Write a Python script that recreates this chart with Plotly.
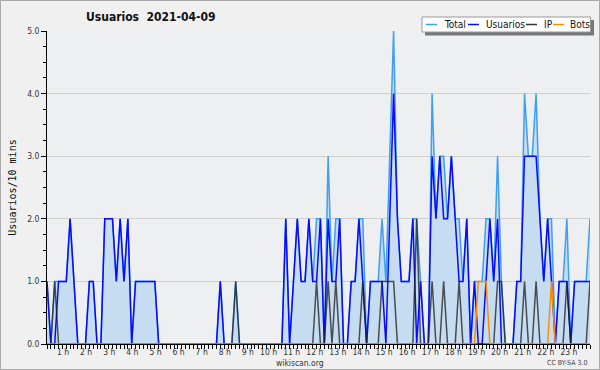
import plotly.graph_objects as go

# ---------------- data (10-minute slots, index 0 = 00:00) ----------------
slots = list(range(142))
total = [1,0,1,1,1,1,2,1,0,0,
         0,1,1,0,0,2,2,2,1,2,
         1,2,0,1,1,1,1,1,1,0,
         0,0,0,0,0,0,0,0,0,0,
         0,0,0,0,0,1,0,0,0,1,
         0,0,0,0,0,0,0,0,0,0,
         0,0,2,0,1,2,1,1,2,1,
         2,2,0,3,1,2,2,0,0,1,
         1,2,2,0,1,1,1,2,1,3,
         5,2,1,1,1,2,2,1,0,0,
         4,2,3,3,2,3,2,2,1,2,
         0,1,1,1,2,2,1,3,1,0,
         0,0,1,1,4,3,3,4,2,1,
         2,2,0,1,1,2,0,1,1,1,
         1,2]
usuarios = [1,0,0,1,1,1,2,1,0,0,
            0,1,1,0,0,2,2,2,1,2,
            1,2,0,1,1,1,1,1,1,0,
            0,0,0,0,0,0,0,0,0,0,
            0,0,0,0,0,1,0,0,0,0,
            0,0,0,0,0,0,0,0,0,0,
            0,0,2,0,1,2,1,1,2,1,
            1,2,0,2,1,1,2,0,0,1,
            1,2,1,0,1,1,1,1,0,2,
            4,2,1,1,1,2,0,1,0,0,
            3,2,3,2,2,3,2,1,1,2,
            0,1,0,0,1,2,1,2,0,0,
            0,0,1,1,3,3,3,3,2,1,
            2,1,0,1,1,1,0,1,1,1,
            1,1]
ip = [0,0,1,0,0,0,0,0,0,0,
      0,0,0,0,0,0,0,0,0,0,
      0,0,0,0,0,0,0,0,0,0,
      0,0,0,0,0,0,0,0,0,0,
      0,0,0,0,0,0,0,0,0,1,
      0,0,0,0,0,0,0,0,0,0,
      0,0,0,0,0,0,0,0,0,0,
      1,0,0,1,0,1,0,0,0,0,
      0,0,1,0,0,0,0,1,1,1,
      1,0,0,0,0,0,2,0,0,0,
      1,0,0,1,0,0,0,1,0,0,
      0,0,0,0,0,0,0,1,1,0,
      0,0,0,0,1,0,0,1,0,0,
      0,0,0,0,0,1,0,0,0,0,
      0,1]
bots = [0]*112 + [1,1,1] + [0]*16 + [1] + [0]*10

hours = list(range(1, 24))
hour_labels = [f"{h} h" for h in hours]

# ---------------- geometry ----------------
W, H = 600, 370
ML, MR, MT, MB = 47, 10, 31, 26
PW, PH = W - ML - MR, H - MT - MB

def fx(px):
    return (px - ML) / PW

def fy(py):
    return (H - MB - py) / PH

FONT = "DejaVu Sans Condensed, Liberation Sans Narrow, DejaVu Sans, sans-serif"

C_TOTAL = "#3d9ff5"
C_USR = "#0a0aff"
C_IP = "rgba(30,30,30,0.75)"
C_BOTS = "#ff8c00"

fig = go.Figure()
fig.add_trace(go.Scatter(x=slots, y=total, mode="lines", name="Total",
                         line=dict(color=C_TOTAL, width=1.5),
                         fill="tozeroy", fillcolor="#c6dcf0"))
fig.add_trace(go.Scatter(x=slots, y=usuarios, mode="lines", name="Usuarios",
                         line=dict(color=C_USR, width=1.5)))
fig.add_trace(go.Scatter(x=slots, y=ip, mode="lines", name="IP",
                         line=dict(color=C_IP, width=1.5)))
fig.add_trace(go.Scatter(x=slots, y=bots, mode="lines", name="Bots",
                         line=dict(color=C_BOTS, width=1.5)))

fig.update_layout(
    width=W, height=H,
    margin=dict(l=ML, r=MR, t=MT, b=MB),
    paper_bgcolor="#f0f0f0",
    plot_bgcolor="#eeeff1",
    showlegend=False,
    font=dict(family=FONT, size=9, color="#333"),
    xaxis=dict(
        range=[0, 141], showgrid=False, zeroline=False,
        showline=True, linecolor="black", linewidth=1,
        tickmode="array", tickvals=[6 * h for h in hours], ticktext=hour_labels,
        tickangle=0,
        ticks="outside", ticklen=4, tickcolor="black",
        ticklabelposition="outside left",
        tickfont=dict(family=FONT, size=8.5, color="#333"),
        minor=dict(ticks="outside", ticklen=4, tickcolor="black",
                   tickmode="linear", tick0=0, dtick=1, showgrid=False),
        fixedrange=True,
    ),
    yaxis=dict(
        range=[0, 5], dtick=1, tickformat=".1f",
        showgrid=True, gridcolor="#cfcfcf", gridwidth=1, zeroline=False,
        showline=True, linecolor="black", linewidth=1,
        ticks="outside", ticklen=5, tickcolor="black",
        tickfont=dict(family=FONT, size=8.5, color="#333"),
        minor=dict(ticks="outside", ticklen=3, tickcolor="black",
                   dtick=0.25, showgrid=False),
        title=dict(text="Usuarios/10 mins",
                   font=dict(family="DejaVu Sans Mono, monospace", size=10, color="#111"),
                   standoff=8),
        fixedrange=True,
    ),
)

shapes = []
annotations = []

# outer frame
shapes.append(dict(type="rect", xref="paper", yref="paper",
                   x0=fx(0.5), x1=fx(599.5), y0=fy(369.5), y1=fy(0.5),
                   line=dict(color="#a8a8a8", width=1), layer="below"))

# title
annotations.append(dict(text="<b>Usuarios  2021-04-09</b>", xref="paper", yref="paper",
                        x=fx(151), y=fy(17), xanchor="center", yanchor="middle",
                        showarrow=False,
                        font=dict(family=FONT, size=12, color="#111")))

# legend (custom box with shadow)
shapes.append(dict(type="rect", xref="paper", yref="paper",
                   x0=fx(425), x1=fx(594), y0=fy(35.5), y1=fy(20),
                   line=dict(width=0), fillcolor="#777777", layer="above"))
shapes.append(dict(type="rect", xref="paper", yref="paper",
                   x0=fx(422), x1=fx(590.5), y0=fy(32), y1=fy(17),
                   line=dict(color="#999999", width=1), fillcolor="white", layer="above"))
legend_items = [("Total", C_TOTAL, 426, 442), ("Usuarios", C_USR, 468, 484),
                ("IP", "#333333", 526, 542), ("Bots", C_BOTS, 553, 568)]
for name, col, lx, tx in legend_items:
    shapes.append(dict(type="line", xref="paper", yref="paper",
                       x0=fx(lx), x1=fx(lx + 11), y0=fy(24.5), y1=fy(24.5),
                       line=dict(color=col, width=1.5), layer="above"))
    annotations.append(dict(text=name, xref="paper", yref="paper",
                            x=fx(tx), y=fy(24.5), xanchor="left", yanchor="middle",
                            showarrow=False,
                            font=dict(family=FONT, size=10, color="#111")))

# footer texts
annotations.append(dict(text="wikiscan.org", xref="paper", yref="paper",
                        x=fx(300), y=fy(362.5), xanchor="center", yanchor="middle",
                        showarrow=False, font=dict(family=FONT, size=8.5, color="#333")))
annotations.append(dict(text="CC BY-SA 3.0", xref="paper", yref="paper",
                        x=fx(589), y=fy(362.5), xanchor="right", yanchor="middle",
                        showarrow=False, font=dict(family=FONT, size=7, color="#444")))

fig.update_layout(shapes=shapes, annotations=annotations)
fig.write_html("out.html", config={"displayModeBar": False},
               post_script="document.body.style.margin='0';document.body.style.padding='0';")
